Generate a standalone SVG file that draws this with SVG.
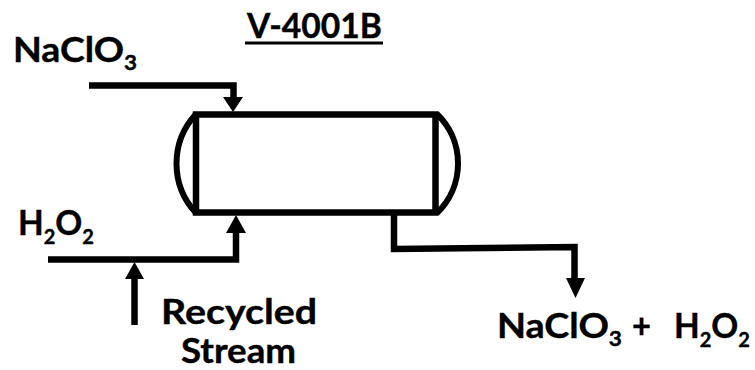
<svg xmlns="http://www.w3.org/2000/svg" width="755" height="370" viewBox="0 0 755 370">
<style>
text{font-family:"Lato","Liberation Sans",sans-serif;font-weight:700;fill:#000;stroke:#000;stroke-width:.4;font-size:35px}
.s{font-size:21px}
.l{fill:none;stroke:#000;stroke-width:6.500;stroke-linejoin:miter}
.c{fill:none;stroke:#000;stroke-width:6}
.h{fill:#000;stroke:none}
</style>
<rect width="755" height="370" fill="#fff"/>
<g id="vessel-V-4001B">
<rect class="l" x="196" y="114.500" width="239.500" height="98"/>
<path class="c" d="M196 114A72.600 72.600 0 0 0 196 213"/>
<path class="c" d="M437 114A68.800 68.800 0 0 1 437 213"/>
</g>
<g id="connectors">
<path class="l" d="M89 85.500H233.500V98"/>
<path class="h" d="M223 97H243L233 112Z"/>
<path class="l" d="M48 259.500H236V232"/>
<path class="h" d="M226 233H246L236 215Z"/>
<path class="l" d="M134.500 325V278"/>
<path class="h" d="M125 279H144L134.500 262Z"/>
<path class="l" d="M394 215V249L574.500 247V279"/>
<path class="h" d="M566 278H585L575.500 298Z"/>
</g>
<g id="title"><text x="247" y="38" textLength="135" lengthAdjust="spacingAndGlyphs">V-4001B</text><rect x="245" y="41.500" width="138" height="3"/></g>
<g id="label-naclo3-in"><text x="13" y="62" textLength="124" lengthAdjust="spacingAndGlyphs">NaClO<tspan class="s" dy="8">3</tspan></text></g>
<g id="label-h2o2-in"><text x="18" y="235" textLength="76" lengthAdjust="spacingAndGlyphs">H<tspan class="s" dy="9">2</tspan><tspan dy="-9">O</tspan><tspan class="s" dy="9">2</tspan></text></g>
<g id="label-recycled"><text x="161" y="324" textLength="156" lengthAdjust="spacingAndGlyphs">Recycled</text><text x="181" y="363" textLength="115" lengthAdjust="spacingAndGlyphs">Stream</text></g>
<g id="label-out"><text x="497" y="338" textLength="125" lengthAdjust="spacingAndGlyphs">NaClO<tspan class="s" dy="8">3</tspan></text><text x="632" y="338" textLength="19" lengthAdjust="spacingAndGlyphs">+</text><text x="674" y="338" textLength="76" lengthAdjust="spacingAndGlyphs">H<tspan class="s" dy="9">2</tspan><tspan dy="-9">O</tspan><tspan class="s" dy="9">2</tspan></text></g>
</svg>
